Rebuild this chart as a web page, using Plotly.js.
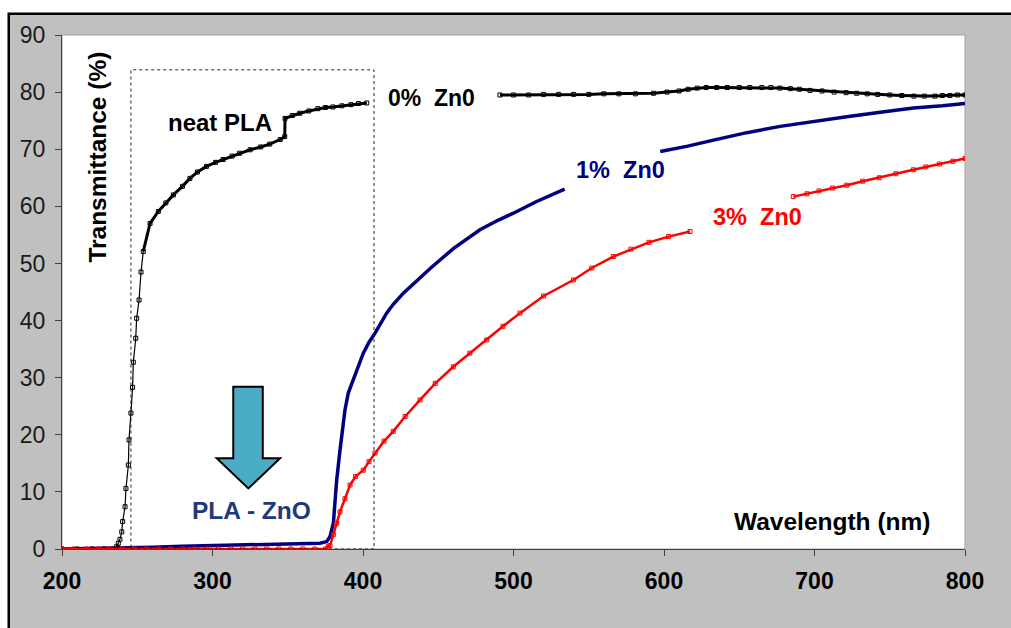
<!DOCTYPE html>
<html>
<head>
<meta charset="utf-8">
<script src="https://cdn.plot.ly/plotly-3.0.1.min.js"></script>
<style>html,body{margin:0;padding:0;background:#fff;}#chart{width:1011px;height:628px;}</style>
</head>
<body>
<div id="chart"></div>
<script>
// Neat PLA / 0% ZnO (black)
const x0 = [200, 210, 220, 228, 234, 236.3, 237.4, 238.5, 239.7, 240.3, 241.9, 242.5, 244.1, 244.5, 245.8, 246.9, 247.4, 249.0, 249.6, 251.2, 252.5, 254, 258.5, 264, 269, 274, 280, 285, 290, 296, 302, 307, 313, 318, 325, 332, 338, 345, 348, 348.2, 353, 358, 364, 370, 375, 380, 386, 392, 397, 402.5, 440, 491, 500, 510, 520, 530, 540, 550, 560, 570, 581, 593, 602, 610, 616, 622, 628, 635, 642, 650, 657, 665, 671, 677, 684, 690, 697, 705, 713, 721, 728, 735, 742, 750, 758, 766, 773, 780, 785, 790, 795, 800];
const y0 = [0, 0, 0, 0, 0, 0.4, 1.0, 1.7, 3.0, 4.8, 7.4, 10.6, 14.7, 19.1, 23.8, 28.3, 32.7, 36.9, 40.4, 43.6, 48.5, 52.1, 57.0, 59.1, 60.6, 62.0, 63.5, 64.9, 66.0, 67.0, 67.7, 68.2, 68.8, 69.3, 69.9, 70.4, 70.9, 71.7, 72.2, 75.4, 75.9, 76.3, 76.7, 77.1, 77.3, 77.4, 77.6, 77.8, 78.0, 78.1, null, 79.5, 79.5, 79.5, 79.6, 79.6, 79.6, 79.6, 79.7, 79.7, 79.7, 79.8, 80.0, 80.2, 80.5, 80.7, 80.8, 80.8, 80.8, 80.8, 80.8, 80.8, 80.8, 80.7, 80.6, 80.5, 80.3, 80.2, 80.0, 79.9, 79.8, 79.7, 79.6, 79.5, 79.4, 79.3, 79.3, 79.3, 79.4, 79.4, 79.5, 79.5];

// 1% ZnO (navy)
const x1 = [200, 250, 260, 280, 300, 320, 340, 360, 371.4, 375.9, 378.1, 380.3, 381.4, 382.5, 384.7, 386.9, 388.0, 390.2, 393.6, 397, 400.2, 404, 408, 415.7, 420, 426.8, 437.9, 445, 460, 477.7, 490, 499.9, 515, 534, 565, 597.5, 615, 632.9, 655, 677.2, 700, 721.4, 745, 765.7, 785, 800];
const y1 = [0, 0.2, 0.3, 0.5, 0.6, 0.8, 0.9, 1.0, 1.0, 1.3, 2.2, 4.5, 9.2, 12.0, 17.3, 22.0, 24.3, 27.3, 29.6, 32.2, 34.3, 36.2, 37.8, 41.3, 42.8, 44.8, 47.5, 49.2, 52.6, 55.9, 57.6, 58.8, 60.8, 63.0, null, 69.6, 70.5, 71.6, 72.9, 74.0, 74.9, 75.7, 76.5, 77.2, 77.6, 78.0];

// 3% ZnO (red)
const x3 = [200, 208, 216, 224, 232, 240, 248, 256, 264, 272, 280, 288, 296, 304, 312, 320, 328, 336, 344, 352, 360, 368, 375, 376.9, 378.1, 380.3, 382.5, 384.7, 388, 391.4, 395, 400.2, 404, 408, 414, 420.1, 428, 437.9, 448, 460, 471, 482.2, 493, 504.3, 520, 539.8, 552, 566.3, 578, 590, 603, 617.3, 650, 685.9, 695, 703, 712, 721.4, 732, 743, 754, 765.7, 774, 783, 792, 800];
const y3 = [0, 0, 0, 0, 0, 0, 0, 0, 0, 0, 0, 0, 0, 0, 0, 0, 0, 0, 0, 0, 0, 0, 0, 0.5, 0.6, 2.5, 4.5, 6.5, 8.8, 11.2, 12.7, 13.8, 15.3, 16.8, 18.9, 20.6, 23.2, 26.1, 29.0, 31.9, 34.3, 36.6, 39.0, 41.3, 44.3, 47.1, 49.2, 51.2, 52.5, 53.7, 54.7, 55.6, null, 61.7, 62.2, 62.7, 63.2, 63.7, 64.4, 65.0, 65.7, 66.4, 66.9, 67.4, 67.9, 68.4];

const xTicks = [200, 300, 400, 500, 600, 700, 800];
const yTicks = [0, 10, 20, 30, 40, 50, 60, 70, 80, 90];

const FONT = "Arial, 'Liberation Sans', sans-serif";
const thickFrom = x0.indexOf(254);

const traces = [
  {x: x1, y: y1, mode: 'lines', connectgaps: false,
   line: {color: '#000080', width: 3.5}},
  {x: x0, y: y0, mode: 'lines+markers', connectgaps: false,
   line: {color: '#000000', width: 1.2}, marker: {symbol: 'square-open', size: 4, color: '#000000', line: {width: 1}}},
  {x: x0.slice(thickFrom), y: y0.slice(thickFrom), mode: 'lines', connectgaps: false,
   line: {color: '#000000', width: 3}},
  {x: x3, y: y3, mode: 'lines+markers', connectgaps: false,
   line: {color: '#ff0000', width: 2.5}, marker: {symbol: 'square-open', size: 4, color: '#ff0000', line: {width: 1}}}
];

const bold = (size, color) => ({family: FONT, size: size, color: color, weight: 'bold'});
const ann = (text, x, y, font, extra) => Object.assign({
  text: text, x: x, y: y, xref: 'x', yref: 'y', showarrow: false,
  font: font, xanchor: 'center', yanchor: 'middle'
}, extra || {});

const layout = {
  width: 1011, height: 628,
  margin: {l: 62, r: 46, t: 35, b: 79},
  paper_bgcolor: '#ffffff',
  plot_bgcolor: 'rgba(0,0,0,0)',
  showlegend: false,
  font: {family: FONT},
  xaxis: {
    range: [200, 800], tickvals: xTicks, ticktext: xTicks.map(String),
    ticks: 'outside', ticklen: 6, tickcolor: '#404040', tickwidth: 1,
    showline: true, linecolor: '#404040', linewidth: 1, showgrid: false, zeroline: false,
    tickfont: bold(23, '#000000'),
    ticklabelstandoff: 5
  },
  yaxis: {
    range: [0, 90], tickvals: yTicks, ticktext: yTicks.map(String),
    ticks: 'outside', ticklen: 6, tickcolor: '#404040', tickwidth: 1,
    showline: true, linecolor: '#404040', linewidth: 1, showgrid: false, zeroline: false,
    tickfont: {family: FONT, size: 23, color: '#1a1a1a'},
    ticklabelstandoff: 5
  },
  shapes: [
    {type: 'rect', xref: 'paper', yref: 'paper', x0: -0.059, x1: 1.2, y0: -0.3, y1: 1.0412,
     fillcolor: '#c0c0c0', line: {color: '#000000', width: 2.5}, layer: 'below'},
    {type: 'rect', xref: 'paper', yref: 'paper', x0: 0, x1: 1, y0: 0, y1: 1,
     fillcolor: '#ffffff', line: {color: '#a0a0a0', width: 1}, layer: 'below'},
    {type: 'rect', xref: 'x', yref: 'y', x0: 245.8, x1: 407.3, y0: 0, y1: 83.9,
     line: {color: '#222222', width: 1, dash: 'dot'}, fillcolor: 'rgba(0,0,0,0)', layer: 'above'},
    {type: 'path', xref: 'x', yref: 'y',
     path: 'M 313.8 28.4 L 333.4 28.4 L 333.4 15.9 L 344.9 15.9 L 323.8 10.6 L 302.8 15.9 L 313.8 15.9 Z',
     fillcolor: '#4bacc6', line: {color: '#000000', width: 2}, layer: 'above'}
  ],
  annotations: [
    ann('Transmittance (%)', 223.9, 68.7, bold(24.5, '#000000'), {textangle: -90}),
    ann('Wavelength (nm)', 711.6, 4.9, bold(24.5, '#000000')),
    ann('neat PLA', 305, 74.6, bold(24, '#000000')),
    ann('0%  Zn0', 445.8, 79.0, bold(23, '#000000')),
    ann('1%  Zn0', 570.8, 66.4, bold(23.5, '#000080')),
    ann('3%  Zn0', 661.8, 58.1, bold(23.5, '#ff0000')),
    ann('PLA - ZnO', 326.2, 6.8, bold(24.5, '#1f3a78'))
  ]
};

Plotly.newPlot('chart', traces, layout, {displayModeBar: false, staticPlot: true});
</script>
</body>
</html>
